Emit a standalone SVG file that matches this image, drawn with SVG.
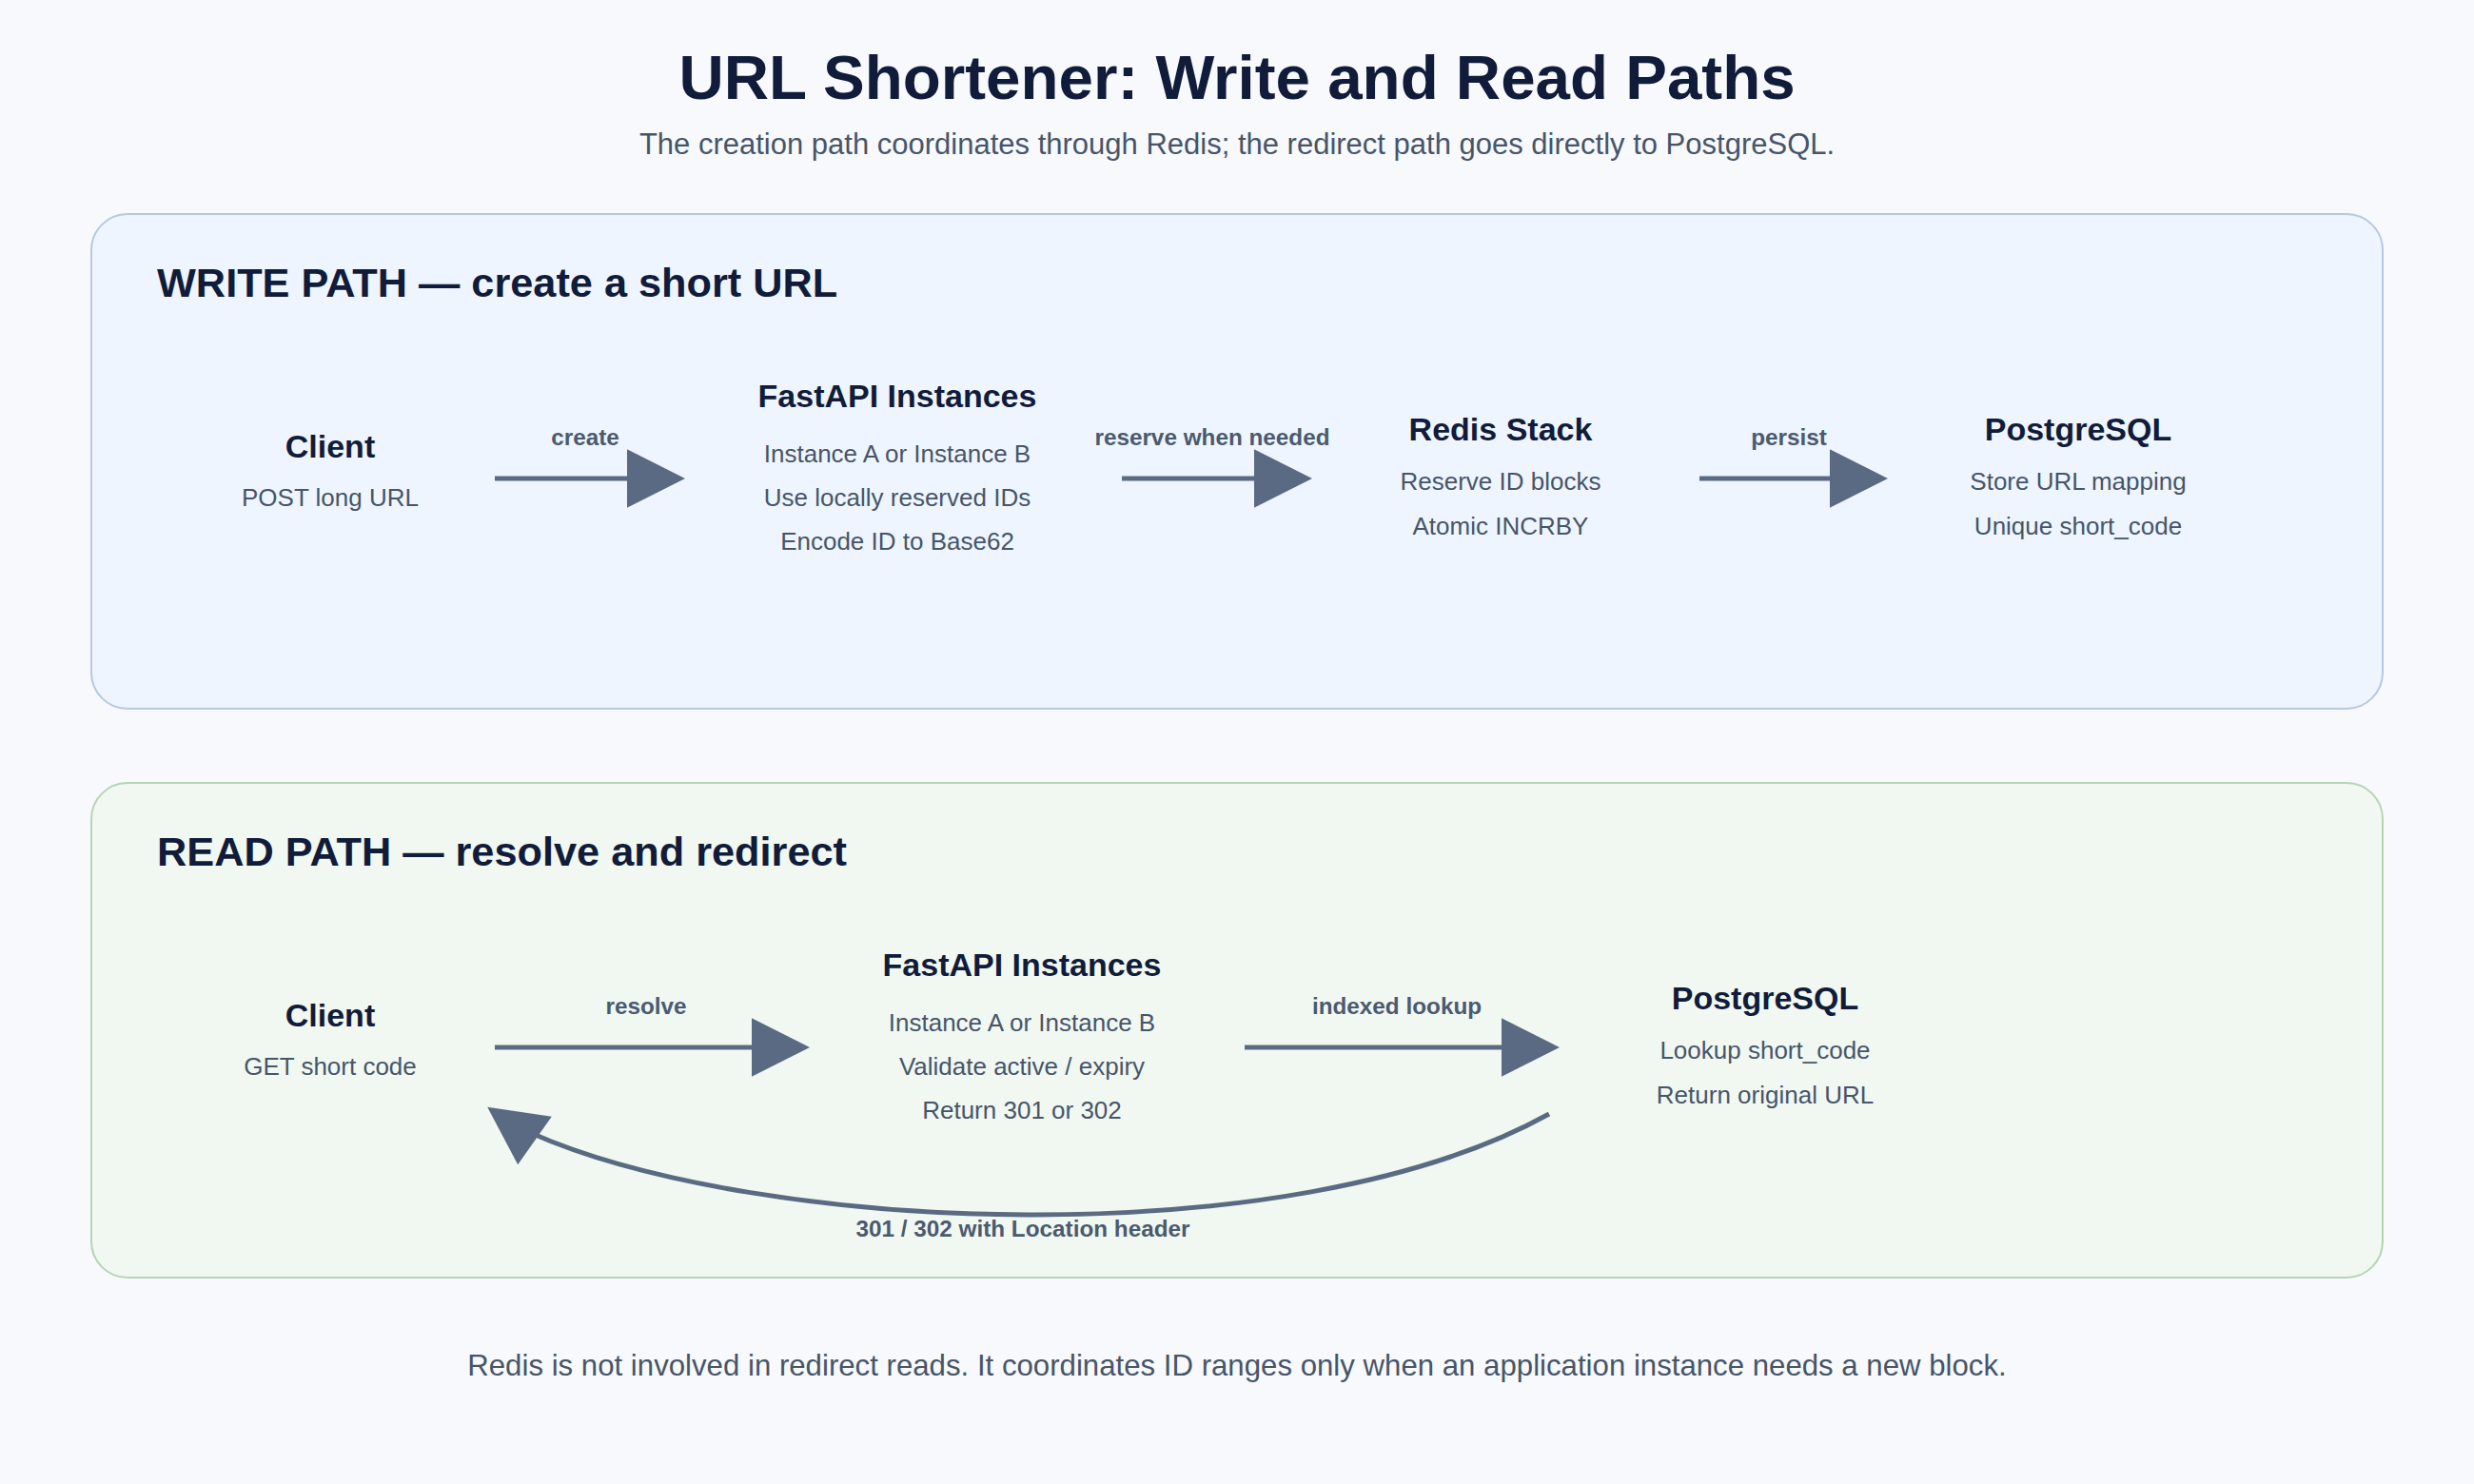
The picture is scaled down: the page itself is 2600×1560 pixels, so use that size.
<svg xmlns="http://www.w3.org/2000/svg" xmlns:xlink="http://www.w3.org/1999/xlink" width="2600" height="1560" viewBox="0 0 2600 1560">
<style>
.title{font-family:"Liberation Sans",Arial,sans-serif;font-weight:bold;font-size:65.5px;fill:#111c3a;text-anchor:middle}
.subtitle{font-family:"Liberation Sans",Arial,sans-serif;font-size:31px;fill:#475569;text-anchor:middle}
.heading{font-family:"Liberation Sans",Arial,sans-serif;font-weight:bold;font-size:43.3px;fill:#111c3a}
.ntitle{font-family:"Liberation Sans",Arial,sans-serif;font-weight:bold;font-size:34px;fill:#111c3a;text-anchor:middle}
.nsub{font-family:"Liberation Sans",Arial,sans-serif;font-size:26px;fill:#475569;text-anchor:middle}
.elabel{font-family:"Liberation Sans",Arial,sans-serif;font-weight:bold;font-size:24.3px;fill:#4b5a70;text-anchor:middle}
.note{font-family:"Liberation Sans",Arial,sans-serif;font-size:31.2px;fill:#475569;text-anchor:middle}
.edge{stroke:#5a6a83;stroke-width:5;fill:none}
.head{fill:#5a6a83}
</style>
<defs>
<path id="arrowHead" d="M0 -30.8 L61 0 L0 30.8 Z"/>
<marker id="arrow" markerUnits="userSpaceOnUse" viewBox="0 -31 61 62" refX="0" refY="0" markerWidth="61" markerHeight="62" orient="auto">
<path d="M0 -30.8 L61 0 L0 30.8 Z" fill="#5a6a83"/>
</marker>
</defs>
<rect x="0" y="0" width="2600" height="1560" fill="#f7f9fc"/>
<text class="title" x="1300" y="104">URL Shortener: Write and Read Paths</text>
<text class="subtitle" x="1300" y="162">The creation path coordinates through Redis; the redirect path goes directly to PostgreSQL.</text>

<g id="write-panel">
<rect x="96" y="225" width="2408" height="520" rx="38" fill="#eef5fe" stroke="#b6c8e4" stroke-width="2"/>
<text class="heading" x="165" y="312">WRITE PATH — create a short URL</text>
</g>
<g id="read-panel">
<rect x="96" y="823" width="2408" height="520" rx="38" fill="#f1f8f2" stroke="#b5d5b5" stroke-width="2"/>
<text class="heading" x="165" y="910">READ PATH — resolve and redirect</text>
</g>

<g id="w-client">
<text class="ntitle" x="347" y="481">Client</text>
<text class="nsub" x="347" y="532">POST long URL</text>
</g>
<g id="w-fastapi">
<text class="ntitle" x="943" y="428">FastAPI Instances</text>
<text class="nsub" x="943" y="486">Instance A or Instance B</text>
<text class="nsub" x="943" y="532">Use locally reserved IDs</text>
<text class="nsub" x="943" y="578">Encode ID to Base62</text>
</g>
<g id="w-redis">
<text class="ntitle" x="1577" y="463">Redis Stack</text>
<text class="nsub" x="1577" y="515">Reserve ID blocks</text>
<text class="nsub" x="1577" y="562">Atomic INCRBY</text>
</g>
<g id="w-postgres">
<text class="ntitle" x="2184" y="463">PostgreSQL</text>
<text class="nsub" x="2184" y="515">Store URL mapping</text>
<text class="nsub" x="2184" y="562">Unique short_code</text>
</g>

<g id="r-client">
<text class="ntitle" x="347" y="1079">Client</text>
<text class="nsub" x="347" y="1130">GET short code</text>
</g>
<g id="r-fastapi">
<text class="ntitle" x="1074" y="1026">FastAPI Instances</text>
<text class="nsub" x="1074" y="1084">Instance A or Instance B</text>
<text class="nsub" x="1074" y="1130">Validate active / expiry</text>
<text class="nsub" x="1074" y="1176">Return 301 or 302</text>
</g>
<g id="r-postgres">
<text class="ntitle" x="1855" y="1061">PostgreSQL</text>
<text class="nsub" x="1855" y="1113">Lookup short_code</text>
<text class="nsub" x="1855" y="1160">Return original URL</text>
</g>

<g id="connectors">
<line class="edge" x1="520" y1="503" x2="659" y2="503" marker-end="url(#arrow)"/>
<text class="elabel" x="615" y="468">create</text>
<line class="edge" x1="1179" y1="503" x2="1318" y2="503" marker-end="url(#arrow)"/>
<text class="elabel" x="1274" y="468">reserve when needed</text>
<line class="edge" x1="1786" y1="503" x2="1923" y2="503" marker-end="url(#arrow)"/>
<text class="elabel" x="1880" y="468">persist</text>

<line class="edge" x1="520" y1="1101" x2="790" y2="1101" marker-end="url(#arrow)"/>
<text class="elabel" x="679" y="1066">resolve</text>
<line class="edge" x1="1308" y1="1101" x2="1578" y2="1101" marker-end="url(#arrow)"/>
<text class="elabel" x="1468" y="1066">indexed lookup</text>

<path class="edge" d="M1628 1171 C1356 1322 795 1296 558 1191"/>
<use xlink:href="#arrowHead" class="head" transform="translate(562 1199) rotate(215.3)"/>
<text class="elabel" x="1075" y="1300">301 / 302 with Location header</text>
</g>

<text class="note" x="1300" y="1446">Redis is not involved in redirect reads. It coordinates ID ranges only when an application instance needs a new block.</text>
</svg>
